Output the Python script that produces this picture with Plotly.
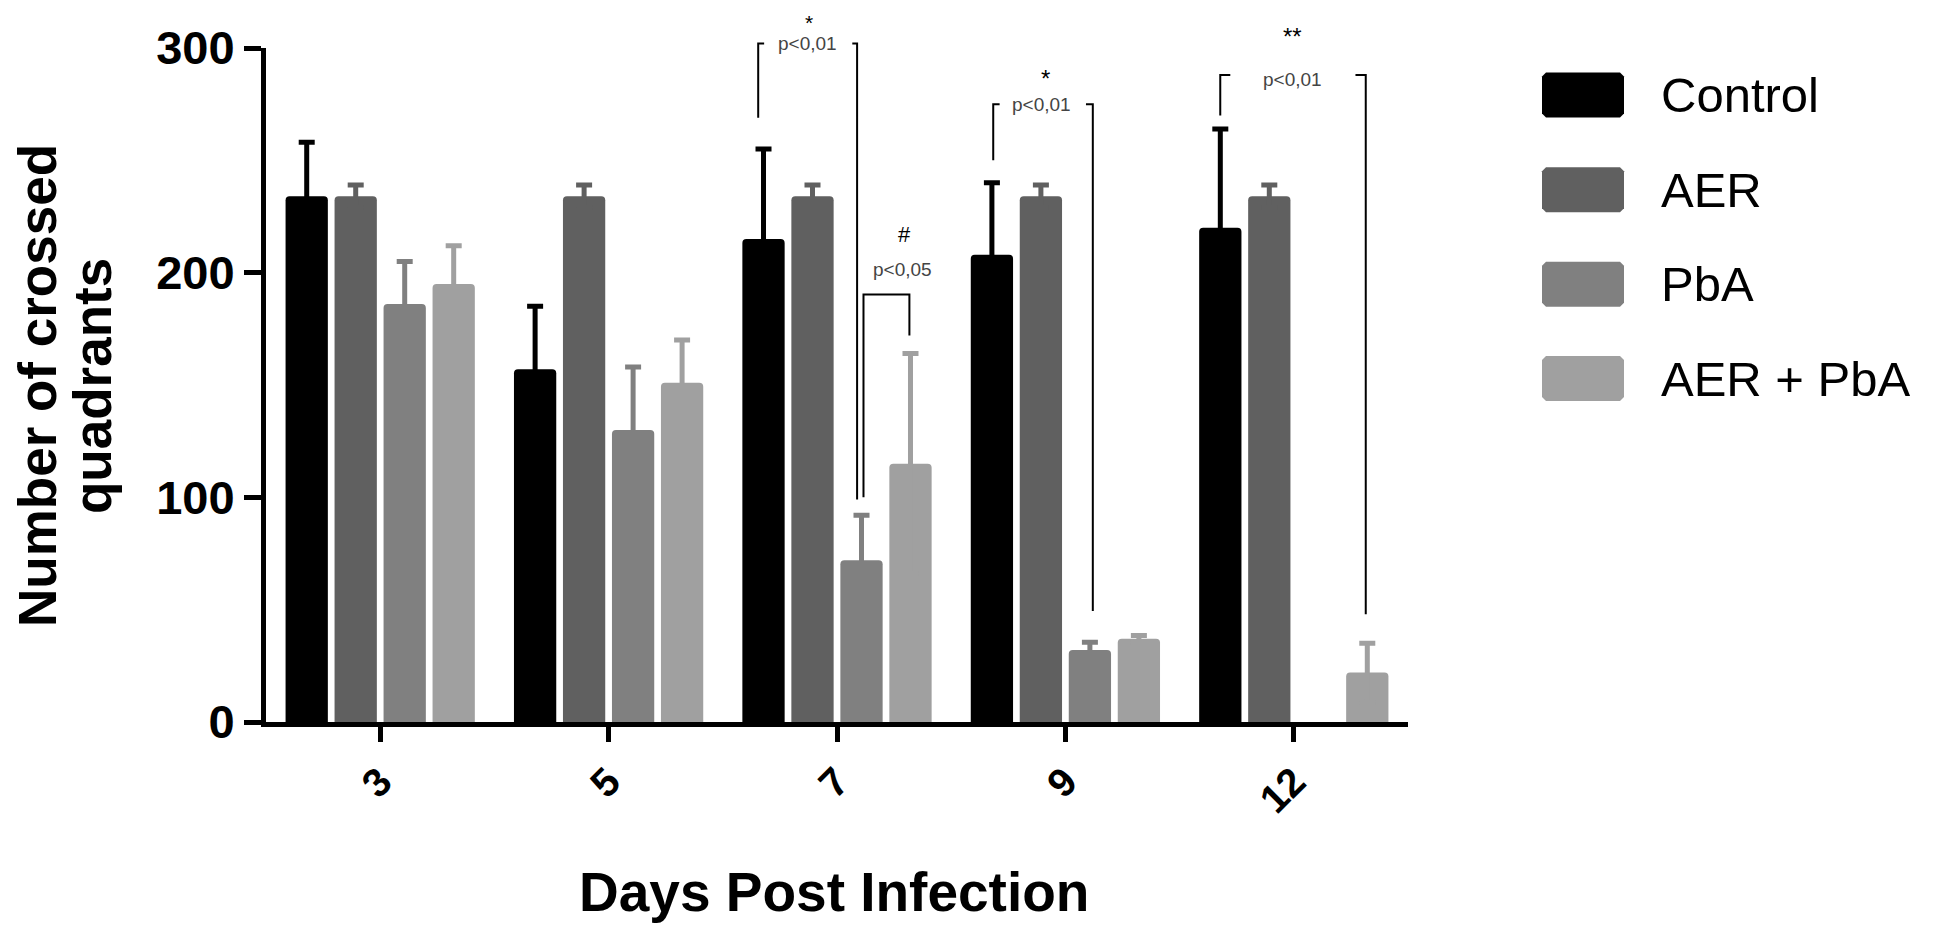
import plotly.graph_objects as go

# values
days = ["3", "5", "7", "9", "12"]
day_pos = [0, 1, 2, 3, 4]

control = [234, 157, 215, 208, 220]
control_err = [24, 28, 40, 32, 44]
aer = [234, 234, 234, 234, 234]
aer_err = [5, 5, 5, 5, 5]
pba = [186, 130, 72, 32, None]
pba_err = [19, 28, 20, 3.5, None]
aer_pba = [195, 151, 115, 37, 22]
aer_pba_err = [17, 19, 49, 1.5, 13]

groups = ["Control", "AER", "PbA", "AER + PbA"]
colors = ["#000000", "#606060", "#808080", "#a0a0a0"]

FONT = "Liberation Sans, Arial, sans-serif"
Y_MAX = 300

# page pixels of the plot area (page body has an 8px margin)
OFF = 8
FIG_W, FIG_H = 1943 - OFF, 926 - OFF
plot_l, plot_r, plot_t, plot_b = 266, 1408, 48, 722
pw, ph = plot_r - plot_l, plot_b - plot_t


def py(v):
    # data value -> paper y (y range is 0..300 on full domain)
    return v / Y_MAX


def px_x(X):
    return (X - plot_l) / pw


def px_y(Y):
    return (plot_b - Y) / ph


fig = go.Figure()

series = [
    (control, control_err),
    (aer, aer_err),
    (pba, pba_err),
    (aer_pba, aer_pba_err),
]
for name, color, (vals, errs) in zip(groups, colors, series):
    fig.add_trace(
        go.Bar(
            x=day_pos,
            y=vals,
            name=name,
            marker=dict(color=color, line=dict(width=0), cornerradius=4),
            error_y=dict(
                type="data",
                array=errs,
                color=color,
                thickness=5,
                width=8,
            ),
            showlegend=False,
        )
    )

# significance brackets (x in category units, y in data values)
brackets = [
    [[(1.655, 269), (1.655, 302), (1.681, 302)], [(2.067, 302), (2.088, 302), (2.088, 99)]],
    [[(2.116, 100), (2.116, 190.3), (2.317, 190.3), (2.317, 172)]],
    [[(2.684, 250), (2.684, 275), (2.712, 275)], [(3.09, 275), (3.12, 275), (3.12, 49.4)]],
    [[(3.678, 270), (3.678, 288), (3.722, 288)], [(4.27, 288), (4.315, 288), (4.315, 48)]],
]
for parts in brackets:
    path = ""
    for seg in parts:
        for i, (bx, by) in enumerate(seg):
            path += ("M " if i == 0 else " L ") + f"{bx},{py(by):.5f}"
        path += " "
    fig.add_shape(
        type="path", path=path.strip(), xref="x", yref="paper",
        line=dict(color="black", width=2),
    )

labels = [
    ("p&lt;0,01", 1.870, 302, 19),
    ("#", 2.294, 217, 22),
    ("p&lt;0,05", 2.285, 201.6, 19),
    ("*", 2.911, 286.5, 24),
    ("p&lt;0,01", 2.894, 275, 19),
    ("**", 3.993, 305, 24),
    ("p&lt;0,01", 3.993, 286, 19),
]
for txt, lx, ly, size in labels:
    fig.add_annotation(
        text=txt, x=lx, y=py(ly), xref="x", yref="paper",
        xanchor="center", yanchor="middle", showarrow=False,
        font=dict(family=FONT, size=size, color="#000000" if size > 20 else "#444444"),
    )
# the star at the very top sits against the page edge
fig.add_annotation(
    text="*", x=1.878, y=px_y(9), xref="x", yref="paper",
    xanchor="center", yanchor="top", showarrow=False,
    font=dict(family=FONT, size=21, color="#000000"),
)

# hand-made legend with big chamfered swatches
leg_y = [95, 189.8, 284.2, 378.5]
for name, color, cy in zip(groups, colors, leg_y):
    x0, x1 = px_x(1542), px_x(1624)
    y0, y1 = px_y(cy + 22.5), px_y(cy - 22.5)
    cx, cyy = 4 / pw, 4 / ph
    path = (
        f"M {x0 + cx},{y0} L {x1 - cx},{y0} L {x1},{y0 + cyy} L {x1},{y1 - cyy} "
        f"L {x1 - cx},{y1} L {x0 + cx},{y1} L {x0},{y1 - cyy} L {x0},{y0 + cyy} Z"
    )
    fig.add_shape(type="path", path=path, xref="paper", yref="paper",
                  fillcolor=color, line=dict(width=0))
    fig.add_annotation(
        text=name, x=px_x(1659), y=px_y(cy), xref="paper", yref="paper",
        xanchor="left", yanchor="middle", showarrow=False,
        font=dict(family=FONT, size=49, color="black"),
    )

# axis titles
fig.add_annotation(
    text="Number of crossed", x=px_x(37), y=px_y(386), xref="paper", yref="paper",
    xanchor="center", yanchor="middle", textangle=-90, showarrow=False,
    font=dict(family=FONT, size=53, color="black", weight="bold"),
)
fig.add_annotation(
    text="quadrants", x=px_x(92), y=px_y(386), xref="paper", yref="paper",
    xanchor="center", yanchor="middle", textangle=-90, showarrow=False,
    font=dict(family=FONT, size=53, color="black", weight="bold"),
)
fig.add_annotation(
    text="Days Post Infection", x=px_x(834), y=px_y(892), xref="paper", yref="paper",
    xanchor="center", yanchor="middle", showarrow=False,
    font=dict(family=FONT, size=55, color="black", weight="bold"),
)

fig.update_layout(
    width=FIG_W,
    height=FIG_H,
    margin=dict(l=plot_l - OFF, r=FIG_W - (plot_r - OFF), t=plot_t - OFF, b=FIG_H - (plot_b - OFF)),
    barmode="group",
    bargap=0.142,
    bargroupgap=0.137,
    plot_bgcolor="white",
    paper_bgcolor="white",
    font=dict(family=FONT, color="black"),
    xaxis=dict(
        range=[-0.5, 4.5],
        tickvals=day_pos,
        ticktext=days,
        tickangle=-45,
        ticks="outside",
        ticklen=15,
        tickwidth=5,
        tickcolor="black",
        showline=True,
        linewidth=5,
        linecolor="black",
        showgrid=False,
        zeroline=False,
        tickfont=dict(family=FONT, size=40, color="black", weight="bold"),
    ),
    yaxis=dict(
        range=[0, Y_MAX],
        tickvals=[0, 100, 200, 300],
        ticks="outside",
        ticklen=17,
        tickwidth=5,
        tickcolor="black",
        showline=True,
        linewidth=5,
        linecolor="black",
        showgrid=False,
        zeroline=False,
        tickfont=dict(family=FONT, size=47, color="black", weight="bold"),
    ),
)

fig.write_html("out.html")
